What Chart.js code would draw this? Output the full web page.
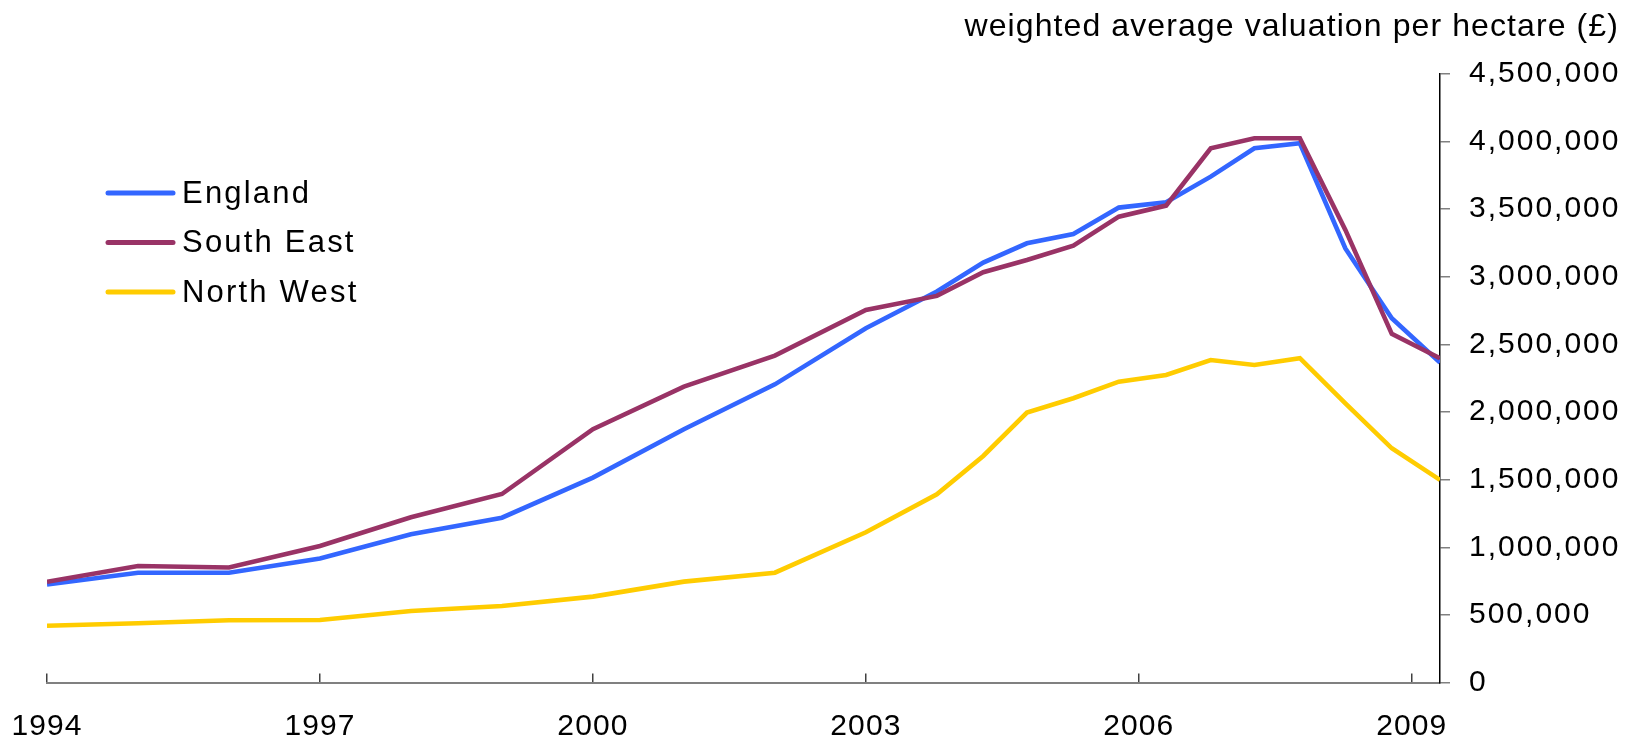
<!DOCTYPE html>
<html>
<head>
<meta charset="utf-8">
<script src="https://cdn.jsdelivr.net/npm/chart.js@4.4.1/dist/chart.umd.min.js"></script>
<style>
  html, body { margin: 0; padding: 0; background: #fff; }
  #wrap { width: 1643px; height: 744px; position: relative; }
</style>
</head>
<body>
<div id="wrap"><canvas id="landChart"></canvas></div>
<script>
// years (points after 2003 are half-yearly)
const years = [1994, 1995, 1996, 1997, 1998, 1999, 2000, 2001, 2002, 2003,
  2003.78, 2004.29, 2004.77, 2005.28, 2005.78, 2006.30, 2006.79,
  2007.27, 2007.77, 2008.27, 2008.78, 2009.31];

const england = [725000, 812000, 812000, 917000, 1096000, 1219000, 1515000, 1873000, 2205000, 2620000,
  2891000, 3105000, 3248000, 3317000, 3512000, 3552000, 3741000,
  3951000, 3988000, 3210000, 2694000, 2366000];

const southEast = [745000, 862000, 850000, 1010000, 1222000, 1394000, 1873000, 2188000, 2417000, 2755000,
  2859000, 3034000, 3125000, 3231000, 3445000, 3527000, 3951000,
  4025000, 4025000, 3347000, 2578000, 2398000];

const northWest = [420000, 438000, 460000, 462000, 529000, 566000, 635000, 746000, 812000, 1111000,
  1392000, 1675000, 1996000, 2102000, 2225000, 2274000, 2385000,
  2348000, 2398000, 2065000, 1732000, 1498000];

const xTicks = [1994, 1997, 2000, 2003, 2006, 2009];
const yTicks = [0, 500000, 1000000, 1500000, 2000000, 2500000, 3000000, 3500000, 4000000, 4500000];
const yTickLabels = ["0", "500,000", "1,000,000", "1,500,000", "2,000,000", "2,500,000",
  "3,000,000", "3,500,000", "4,000,000", "4,500,000"];

const seriesNames = ["England", "South East", "North West"];
const seriesColors = ["#3366FF", "#993366", "#FFCC00"];

const FONT = "'Liberation Sans', Arial, Helvetica, sans-serif";

function points(values) {
  return values.map((v, i) => ({ x: years[i], y: v }));
}

// the original text is a bit wide, so space the letters out a little
// (title + x labels are drawn before the datasets, y labels after them)
const textSpacing = {
  id: "textSpacing",
  beforeDraw(chart) { chart.ctx.letterSpacing = "1.1px"; },
  afterDatasetsDraw(chart) { chart.ctx.letterSpacing = "2px"; },
  afterDraw(chart) { chart.ctx.letterSpacing = "0px"; }
};

// legend drawn by hand at top-left of the plot
const handLegend = {
  id: "handLegend",
  afterDraw(chart) {
    const ctx = chart.ctx;
    ctx.save();
    ctx.font = "31px " + FONT;
    ctx.letterSpacing = "2.2px";
    ctx.textBaseline = "middle";
    ctx.textAlign = "left";
    ctx.lineCap = "round";
    seriesNames.forEach((name, i) => {
      const y = 193 + i * 49.5;
      ctx.strokeStyle = seriesColors[i];
      ctx.lineWidth = 5;
      ctx.beginPath();
      ctx.moveTo(108, y);
      ctx.lineTo(173, y);
      ctx.stroke();
      ctx.fillStyle = "#000";
      ctx.fillText(name, 182, y + 1);
    });
    ctx.restore();
    ctx.letterSpacing = "0px";
  }
};

new Chart(document.getElementById("landChart"), {
  type: "line",
  data: {
    datasets: [
      { label: seriesNames[0], data: points(england), borderColor: seriesColors[0], order: 1 },
      { label: seriesNames[1], data: points(southEast), borderColor: seriesColors[1], order: 0 },
      { label: seriesNames[2], data: points(northWest), borderColor: seriesColors[2], order: 2 }
    ]
  },
  options: {
    responsive: true,
    maintainAspectRatio: false,
    animation: false,
    devicePixelRatio: 1,
    layout: { padding: { left: 47, right: 24, top: 0, bottom: 0 } },
    elements: {
      line: { borderWidth: 4.6, tension: 0, borderJoinStyle: "miter", borderCapStyle: "butt" },
      point: { radius: 0, hoverRadius: 0 }
    },
    plugins: {
      legend: { display: false },
      tooltip: { enabled: false },
      title: {
        display: true,
        text: "weighted average valuation per hectare (£)",
        align: "end",
        color: "#000",
        font: { family: FONT, size: 32, weight: "normal", lineHeight: 1.2 },
        padding: { top: 8, bottom: 27.6 }
      }
    },
    scales: {
      x: {
        type: "linear",
        min: 1994,
        max: 2009.31,
        afterBuildTicks(scale) { scale.ticks = xTicks.map(v => ({ value: v })); },
        afterFit(scale) {
          scale.height = 61.5;
          scale.paddingLeft = 0;
          scale.paddingRight = 0;
        },
        border: { color: "#808080", width: 2 },
        grid: { drawOnChartArea: false, tickLength: -9, color: "#404040", lineWidth: 1.5 },
        ticks: {
          color: "#000",
          padding: 35,
          maxRotation: 0,
          autoSkip: false,
          font: { family: FONT, size: 30 },
          callback: v => String(v)
        }
      },
      y: {
        position: "right",
        min: 0,
        max: 4500000,
        afterBuildTicks(scale) { scale.ticks = yTicks.map(v => ({ value: v })); },
        afterFit(scale) { scale.width = 179; },
        border: { color: "#000", width: 1.5 },
        grid: { drawOnChartArea: false, tickLength: 10, color: "#808080", lineWidth: 1.5 },
        ticks: {
          z: 1,
          color: "#000",
          padding: 19,
          font: { family: FONT, size: 30 },
          callback: v => yTickLabels[yTicks.indexOf(v)]
        }
      }
    }
  },
  plugins: [textSpacing, handLegend]
});
</script>
</body>
</html>
